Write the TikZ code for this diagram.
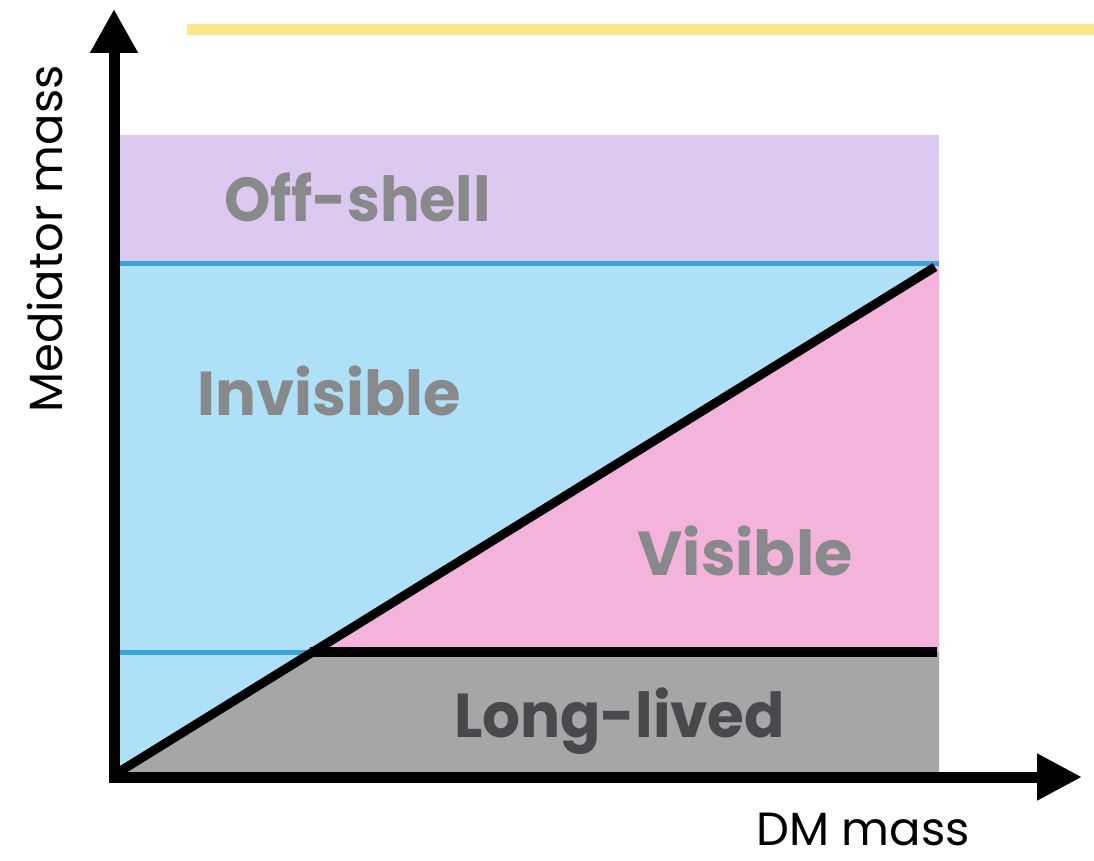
\documentclass[tikz,border=0pt]{standalone}
\usepackage{fontspec}
\setmainfont{Poppins}
\usetikzlibrary{arrows.meta}
\definecolor{offshellc}{HTML}{DCC9F0}
\definecolor{invisc}{HTML}{AEE0F7}
\definecolor{bluelinec}{HTML}{3AA3DC}
\definecolor{visc}{HTML}{F4B3DB}
\definecolor{longc}{HTML}{A4A7A5}
\definecolor{yellowc}{HTML}{FFE68A}
\definecolor{labgrey}{HTML}{87898A}
\definecolor{labdark}{HTML}{48494D}
\tikzset{
  region label/.style={anchor=base, inner sep=0pt, text=labgrey, font=\fontsize{62}{62}\selectfont\bfseries},
  axis label/.style={anchor=base, inner sep=0pt, text=black},
  axis line/.style={line width=11pt, line join=miter,
    {Triangle[length=44pt,width=45pt]}-{Triangle[length=45pt,width=44pt]}},
  bound blue/.style={draw=bluelinec, line width=5pt},
  bound black/.style={draw=black, line width=10pt},
  diag line/.style={draw=black, line width=9pt}
}
\begin{document}
\begin{tikzpicture}[x=1pt,y=-1pt]
\useasboundingbox (0,0) rectangle (1094,861);
% key coordinates
\coordinate (o) at (114,777);
\coordinate (ytip) at (114,9);
\coordinate (xtip) at (1082,777);
\coordinate (d0) at (114,775);
\coordinate (d1) at (935,267);
\coordinate (k) at (310,652);
% regions
\fill[offshellc] (119,135) rectangle (939,263);
\fill[invisc] (119,263) rectangle (939,773);
\fill[visc] (d0) -- (939,265) -- (939,773) -- cycle;
\fill[longc] (d0) -- (k) -- (939,652) -- (939,773) -- (114,773) -- cycle;
% boundaries
\draw[bound blue] (119,263) -- (939,263);
\draw[bound blue] (119,652) -- (k);
\draw[bound black] (k) -- (937,652);
\draw[diag line] (d0) -- (d1);
% yellow line
\coordinate (y0) at (187,29.5);
\coordinate (y1) at (1094,29.5);
\draw[yellowc, line width=11pt] (y0) -- (y1);
% axes
\draw[axis line] (ytip) -- (o) -- (xtip);
% labels
\node[region label, xscale=0.95] (offshell) at (357.5,222) {Off-shell};
\node[region label, xscale=0.98] (invisible) at (329,415) {Invisible};
\node[region label] (visible) at (745,575) {Visible};
\node[region label, xscale=0.96, text=labdark] (longlived) at (619.5,737) {Long-lived};
\node[axis label, rotate=90, font=\fontsize{46.5}{46.5}\selectfont] (ylab) at (62,239) {Mediator mass};
\node[axis label, font=\fontsize{46.5}{46.5}\selectfont] (xlab) at (863,845) {DM mass};
\end{tikzpicture}
\end{document}
